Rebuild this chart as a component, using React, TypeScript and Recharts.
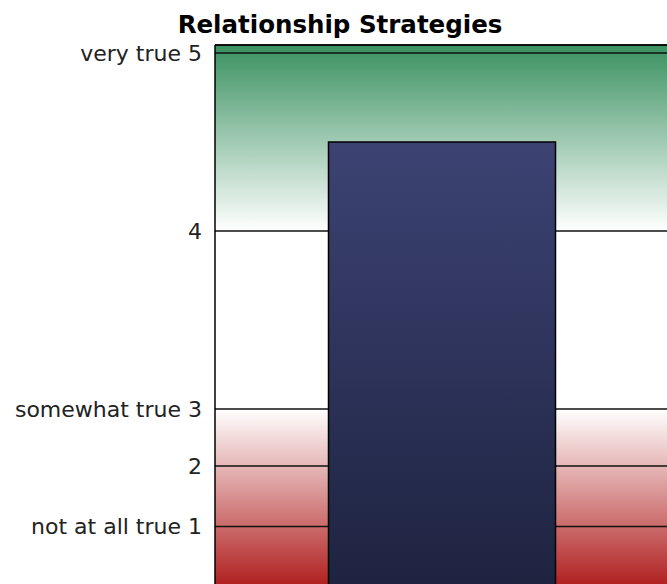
import React from 'react';
import { BarChart, Bar, XAxis, YAxis, CartesianGrid, ReferenceLine } from 'recharts';

// one bar, one category
const categories = ['Relationship Strategies'];
const scores = [4.5];

// y axis: tick positions, with their labels
const tickValues = [5, 4, 3, 2.68, 2.34];
const tickLabels = ['very true 5', '4', 'somewhat true 3', '2', 'not at all true 1'];
const domainMin = 2;
const domainMax = 5.045;

// background bands: green fades out at 4, red starts at 3
const greenEnd = 4;
const redStart = 3;

const data = categories.map((name, i) => ({ name, score: scores[i] }));

const offset = (v: number) => `${((domainMax - v) / (domainMax - domainMin)) * 100}%`;

const labelFor = (v: number) => {
  const i = tickValues.indexOf(v);
  return i >= 0 ? tickLabels[i] : String(v);
};

export default function App() {
  return (
    <div
      style={{
        position: 'fixed',
        left: 0,
        top: 0,
        width: 667,
        height: 584,
        overflow: 'hidden',
        background: '#fff',
      }}
    >
      <svg width={0} height={0} style={{ position: 'absolute' }}>
        <defs>
          <linearGradient id="plotBg" x1="0" y1="0" x2="0" y2="1">
            <stop offset="0%" stopColor="#3a9160" />
            <stop offset={offset(greenEnd)} stopColor="#ffffff" />
            <stop offset={offset(redStart)} stopColor="#ffffff" />
            <stop offset="100%" stopColor="#b01e1e" />
          </linearGradient>
          <linearGradient id="barFill" x1="0" y1="0" x2="0" y2="1">
            <stop offset="0%" stopColor="#3c4373" />
            <stop offset="100%" stopColor="#1e2340" />
          </linearGradient>
        </defs>
      </svg>

      {/* 제목 */}
      <div
        style={{
          position: 'absolute',
          top: 10,
          left: 0,
          width: 680,
          textAlign: 'center',
          fontFamily: '"DejaVu Sans", sans-serif',
          fontWeight: 'bold',
          fontSize: 24.5,
          color: '#000',
          lineHeight: 'normal',
        }}
      >
        Relationship Strategies
      </div>

      <BarChart
        width={680}
        height={587}
        data={data}
        margin={{ top: 45, right: 11, bottom: 0, left: 0 }}
        barCategoryGap="25%"
      >
        <CartesianGrid
          vertical={false}
          fill="url(#plotBg)"
          fillOpacity={1}
          stroke="#111"
          strokeWidth={1.5}
        />
        <XAxis dataKey="name" hide />
        <YAxis
          type="number"
          width={215}
          domain={[domainMin, domainMax]}
          ticks={tickValues}
          interval={0}
          allowDataOverflow
          tickFormatter={labelFor}
          tickSize={0}
          tickMargin={13}
          tickLine={false}
          axisLine={{ stroke: '#000', strokeWidth: 1.5 }}
          tick={{ fill: '#222', fontSize: 22, fontFamily: '"DejaVu Sans", sans-serif' }}
        />
        <ReferenceLine y={domainMax} stroke="#000" strokeWidth={1.5} />
        <Bar
          dataKey="score"
          fill="url(#barFill)"
          stroke="#000"
          strokeWidth={1.5}
          isAnimationActive={false}
        />
      </BarChart>
    </div>
  );
}
